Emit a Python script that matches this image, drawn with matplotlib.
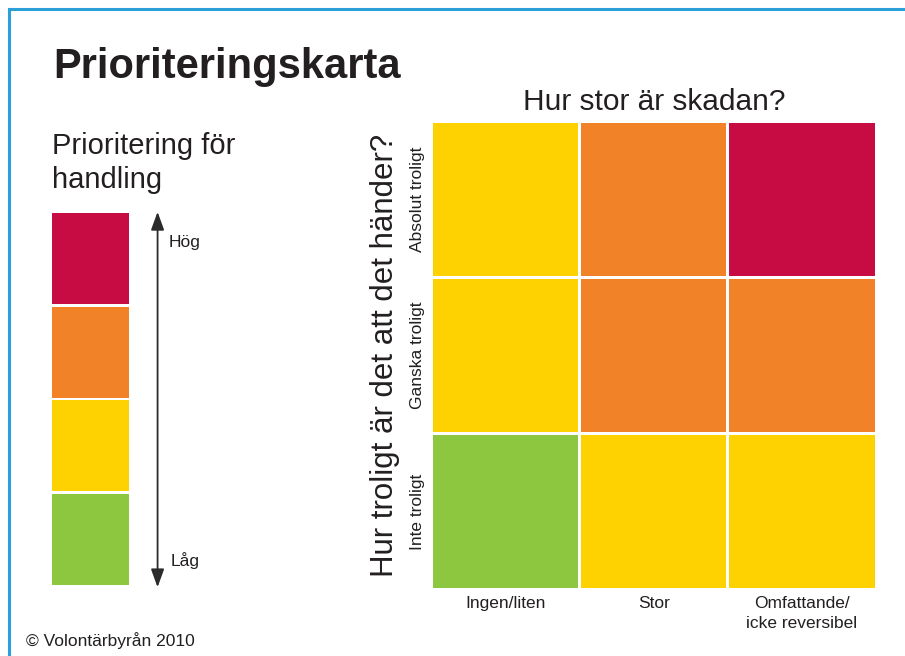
import matplotlib.pyplot as plt
from matplotlib.lines import Line2D

plt.rcParams['font.family'] = ['Liberation Sans', 'DejaVu Sans']

# priority levels, low -> high
level_names  = ['Låg', '', '', 'Hög']
level_colors = ['#8DC63F', '#FED100', '#F28227', '#C60C42']

# matrix: rows = likelihood (bottom -> top), cols = damage size
likelihood = ['Inte troligt', 'Ganska troligt', 'Absolut troligt']
damage     = ['Ingen/liten', 'Stor', 'Omfattande/\nicke reversibel']
priority   = [[0, 1, 1],
              [1, 2, 2],
              [1, 2, 3]]

text_col = '#231F20'
W, H = 905, 656

fig = plt.figure(figsize=(W / 100, H / 100), dpi=100)

def px_axes(x0, y0, x1, y1):
    return fig.add_axes([x0 / W, 1 - y1 / H, (x1 - x0) / W, (y1 - y0) / H])

# blue frame on top and left
fig.add_artist(Line2D([9 / W, 1], [1 - 9 / H, 1 - 9 / H], color='#2A9FD8', lw=2.2))
fig.add_artist(Line2D([9 / W, 9 / W], [0, 1 - 9 / H], color='#2A9FD8', lw=2.2))

fig.text(53 / W, 1 - 78 / H, 'Prioriteringskarta', fontsize=30, fontweight='bold',
         color=text_col, va='baseline', ha='left')
fig.text(52 / W, 1 - 132 / H, 'Prioritering för\nhandling', fontsize=21,
         color=text_col, va='top', ha='left', linespacing=1.25)
fig.text(26 / W, 1 - 641 / H, '© Volontärbyrån 2010', fontsize=12.5,
         color=text_col, va='center', ha='left')

# priority legend stack
ax1 = px_axes(52, 213, 128.5, 585)
gap = 0.97
for i, c in enumerate(level_colors):
    ax1.bar(0, gap, bottom=i - gap / 2, width=1, color=c)
ax1.set_xlim(-0.5, 0.5)
ax1.set_ylim(-gap / 2, len(level_colors) - 1 + gap / 2)
ax1.axis('off')
ax1.annotate('', xy=(1.38, 1.003), xytext=(1.38, -0.006),
             xycoords='axes fraction', textcoords='axes fraction',
             arrowprops=dict(arrowstyle='<|-|>,head_length=0.55,head_width=0.2',
                             mutation_scale=20, color='#2b2b2b', lw=1.3,
                             shrinkA=0, shrinkB=0))
ax1.text(1.52, 0.92, level_names[-1], transform=ax1.transAxes, fontsize=12.5,
         color=text_col, va='center', ha='left')
ax1.text(1.55, 0.065, level_names[0], transform=ax1.transAxes, fontsize=12.5,
         color=text_col, va='center', ha='left')

# priority matrix
ax2 = px_axes(433, 122.5, 874.5, 588)
cell = 0.98
for r, row in enumerate(priority):
    for c, lvl in enumerate(row):
        ax2.bar(c, cell, bottom=r - cell / 2, width=cell, color=level_colors[lvl])
ax2.set_xlim(-cell / 2, len(damage) - 1 + cell / 2)
ax2.set_ylim(-cell / 2, len(likelihood) - 1 + cell / 2)
for s in ax2.spines.values():
    s.set_visible(False)
ax2.tick_params(length=0)
ax2.set_xticks(range(len(damage)), damage, fontsize=12.5, color=text_col,
               linespacing=1.45)
ax2.tick_params(axis='x', pad=5.5)
ax2.set_yticks(range(len(likelihood)), likelihood, fontsize=12.5, color=text_col,
               rotation=90, va='center')
ax2.tick_params(axis='y', pad=6)
ax2.set_title('Hur stor är skadan?', fontsize=21.5, color=text_col, pad=9)
ax2.set_ylabel('Hur troligt är det att det händer?', fontsize=22.5, color=text_col,
               va='center')
ax2.yaxis.set_label_coords((385 - 433) / 441.5, 0.5)

fig.savefig('out.png', dpi=100)
